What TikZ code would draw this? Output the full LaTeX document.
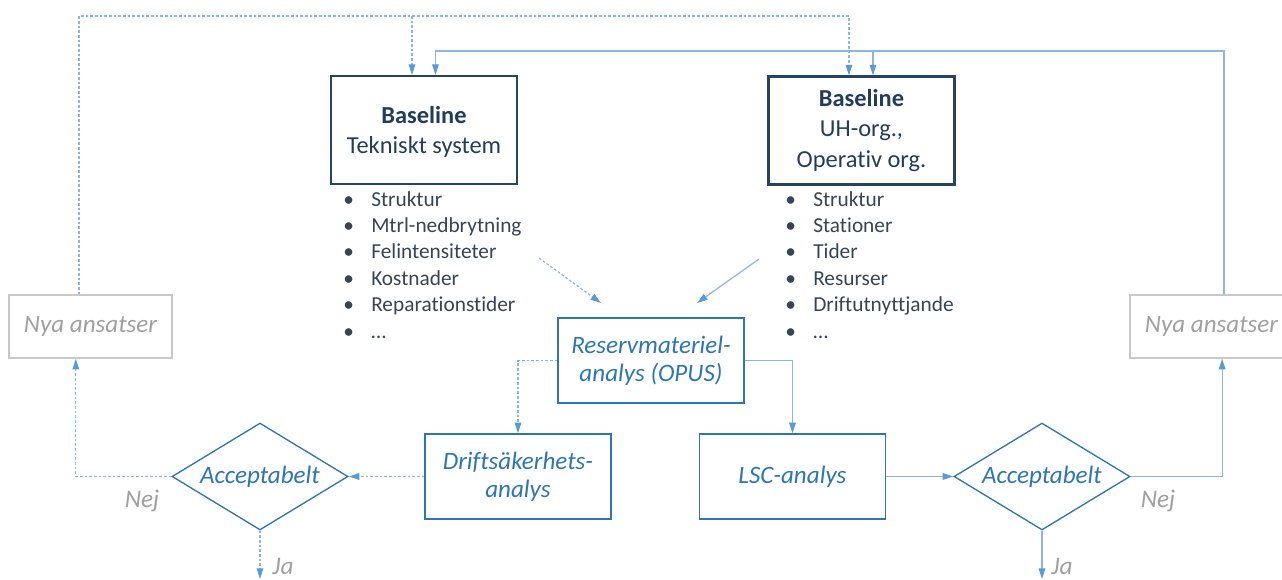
\documentclass[tikz,border=0pt]{standalone}
\usepackage{fontspec}
\setmainfont{Carlito}[Ligatures={NoCommon}]
\usetikzlibrary{arrows.meta,shapes.geometric}
\definecolor{navy}{RGB}{40,66,98}
\definecolor{navytext}{RGB}{35,60,92}
\definecolor{bultext}{RGB}{55,68,85}
\definecolor{boxblue}{RGB}{46,117,182}
\definecolor{lineblue}{RGB}{140,182,222}
\definecolor{tipblue}{RGB}{91,155,213}
\definecolor{greytext}{RGB}{160,160,160}
\definecolor{greybox}{RGB}{200,200,200}
\begin{document}
\begin{tikzpicture}[x=0.75pt,y=-0.75pt,
 basebox/.style={draw=navy,line width=1.6pt,minimum width=139.5pt,minimum height=81pt,inner sep=0pt,align=center,text=navytext,font=\fontsize{18.3}{23}\selectfont},
 anabox/.style={draw=boxblue,line width=1.2pt,minimum width=139.5pt,minimum height=63.75pt,inner sep=0pt,align=center,text=boxblue,font=\fontsize{18.8}{21}\selectfont\itshape},
 newbox/.style={draw=greybox,line width=1.2pt,minimum width=122.25pt,minimum height=47.25pt,inner sep=0pt,text=greytext,font=\fontsize{18.8}{21}\selectfont\itshape},
 decision/.style={diamond,aspect=1.64,draw=boxblue,line width=1pt,minimum width=132pt,minimum height=80.25pt,inner sep=0pt,text=boxblue,font=\fontsize{18.8}{21}\selectfont\itshape},
 lbl/.style={text=greytext,font=\fontsize{19}{21}\selectfont\itshape,inner sep=0pt},
 bul/.style={anchor=base west,inner sep=0pt,text=bultext,font=\fontsize{16}{20}\selectfont},
 arr/.style={-{Triangle[length=8pt,width=5pt,color=tipblue]}},
 sl/.style={draw=lineblue,line width=0.9pt},
 dl/.style={draw=lineblue,line width=0.9pt,dash pattern=on 2pt off 1.5pt},
]
\useasboundingbox (0,0) rectangle (1282,579);
\clip (0,0) rectangle (1282,579);
% main boxes
\node[basebox] (b1) at (424,130) {{}\\[-8pt]\textbf{Baseline}\\[-0.5pt]Tekniskt system};
\node[basebox] (b2) at (861.5,130.5) {\textbf{Baseline}\\UH-org.,\\Operativ org.};
\node[anabox] (res) at (651,360.5) {Reservmateriel-\\analys (OPUS)};
\node[anabox] (dri) at (518,476.5) {Driftsäkerhets-\\analys};
\node[anabox] (lsc) at (792.5,476.5) {LSC-analys};
\node[decision] (dL) at (260,476.5) {Acceptabelt};
\node[decision] (dR) at (1042,476.5) {Acceptabelt};
\node[newbox] (nyaL) at (90.5,326.5) {Nya ansatser};
\node[newbox] (nyaR) at (1211.5,326.5) {Nya ansatser};
\node[lbl] (nejL) at (142,501) {Nej};
\node[lbl] (jaL) at (283,566) {Ja};
\node[lbl] (nejR) at (1158,501) {Nej};
\node[lbl] (jaR) at (1062,566) {Ja};
% bullet lists
\foreach \t [count=\i] in {Struktur,Mtrl-nedbrytning,Felintensiteter,Kostnader,Reparationstider,…}
  \node[bul] (lt\i) at (343,{206+26.4*(\i-1)}) {\makebox[21pt][l]{\textbullet}\t};
\foreach \t [count=\i] in {Struktur,Stationer,Tider,Resurser,Driftutnyttjande,…}
  \node[bul] (rt\i) at (785,{206+26.4*(\i-1)}) {\makebox[21pt][l]{\textbullet}\t};
% coordinates
\coordinate (yd) at (0,16);
\coordinate (ys) at (0,51);
\coordinate (b1a) at ([xshift=-9pt]b1.north);
\coordinate (b1b) at ([xshift=8.6pt]b1.north);
\coordinate (b2a) at ([xshift=-9.4pt]b2.north);
\coordinate (b2b) at ([xshift=8.6pt]b2.north);
\coordinate (endL) at (260,579);
\coordinate (endR) at (1042,579);
\coordinate (fa1) at (539,258);
\coordinate (fa2) at (601,303);
\coordinate (fb1) at (759,259);
\coordinate (fb2) at (697,303);
% top loops
\draw[dl,arr] ([xshift=-8.6pt]nyaL.north) |- (yd -| b2a) -- (b2a);
\draw[dl,arr] (yd -| b1a) -- (b1a);
\draw[sl,arr] ([xshift=9.4pt]nyaR.north) |- (ys -| b1b) -- (b1b);
\draw[sl,arr] (ys -| b2b) -- (b2b);
% inputs to OPUS
\draw[dl,arr] (fa1) -- (fa2);
\draw[sl,arr] (fb1) -- (fb2);
% analysis flow
\draw[dl,arr] (res.west) -| (dri.north);
\draw[sl,arr] (res.east) -| (lsc.north);
\draw[dl,arr] (dri.west) -- (dL.east);
\draw[sl,arr] (lsc.east) -- (dR.west);
\draw[dl,arr] (dL.west) -| ([xshift=-11pt]nyaL.south);
\draw[sl,arr] (dR.east) -| ([xshift=8pt]nyaR.south);
\draw[dl,arr] (dL.south) -- (endL);
\draw[sl,arr] (dR.south) -- (endR);
\end{tikzpicture}
\end{document}
